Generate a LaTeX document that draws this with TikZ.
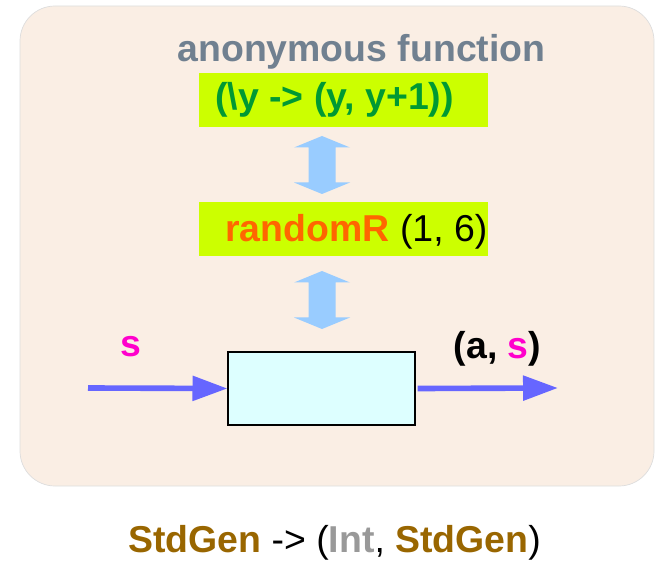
\documentclass[tikz,border=0pt]{standalone}
\usepackage{fontspec}
\setmainfont{Liberation Sans}
\usetikzlibrary{arrows.meta}

\definecolor{panelfill}{HTML}{FAEEE4}
\definecolor{panelline}{HTML}{DDDDDD}
\definecolor{titlegray}{HTML}{708090}
\definecolor{codeyellow}{HTML}{CCFF00}
\definecolor{lamgreen}{HTML}{009933}
\definecolor{randorange}{HTML}{FF6600}
\definecolor{fatblue}{HTML}{99CCFF}
\definecolor{genfill}{HTML}{DDFFFF}
\definecolor{flowblue}{HTML}{6666FF}
\definecolor{smagenta}{HTML}{FF00CC}
\definecolor{stdbrown}{HTML}{996600}
\definecolor{intgray}{HTML}{999999}

\tikzset{
  txt/.style = {inner sep = 0, anchor = base},
  codebox/.style = {fill = codeyellow, minimum width = 5.78cm, minimum height = 1.08cm, inner sep = 0},
  genbox/.style = {draw = black, line width = 0.6pt, fill = genfill, minimum width = 3.74cm, minimum height = 1.46cm, inner sep = 0},
  flow/.style = {draw = flowblue, line width = 3.2pt, -{Triangle[length = 0.7cm, width = 0.48cm]}},
  fatarrow/.style = {fill = fatblue}
}

\begin{document}
\begin{tikzpicture}[x = 0.02cm, y = -0.02cm, font = \fontsize{21.3}{25}\selectfont]
\useasboundingbox (0, 0) rectangle (658, 563);
\draw[draw = panelline, fill = panelfill, rounded corners = 0.7cm] (20, 6) rectangle (654, 486);

\node[txt, text = titlegray, font = \fontsize{21.3}{25}\selectfont\bfseries] (title) at (361.5, 62) {anonymous function};

\node[codebox] (lambdabox) at (343.5, 100) {};
\node[txt, anchor = base west, text = lamgreen, font = \fontsize{21.3}{25}\selectfont\bfseries] (lambda) at (215, 110) {(\textbackslash y -> (y, y+1))};

\node[codebox] (randbox) at (343.5, 229) {};
\node[txt, anchor = base west] (rand) at (225, 242) {\textcolor{randorange}{\bfseries randomR} (1, 6)};

\foreach \cy in {165, 300} {
  \begin{scope}[shift = {(322, \cy)}]
    \fill[fatarrow] (0, -29) -- (28, -17.5) -- (13.5, -17.5) -- (13.5, 17.5) -- (28, 17.5)
      -- (0, 29) -- (-28, 17.5) -- (-13.5, 17.5) -- (-13.5, -17.5) -- (-28, -17.5) -- cycle;
  \end{scope}
}

\node[genbox] (gen) at (321.5, 388.5) {};
\coordinate (sin) at (88, 388);
\coordinate (sout) at (558, 388);
\draw[flow] (sin) -- (gen.west);
\draw[flow] ([xshift = 0.04cm]gen.east) -- (sout);

\node[txt, text = smagenta, font = \fontsize{21.3}{25}\selectfont\bfseries] (slabel) at (131, 356) {s};
\node[txt, font = \fontsize{21.3}{25}\selectfont\bfseries] (pairlabel) at (497.5, 358) {(a, \textcolor{smagenta}{s})};

\node[txt] (signature) at (334.5, 552) {\textcolor{stdbrown}{\bfseries StdGen} -> (\textcolor{intgray}{\bfseries Int}, \textcolor{stdbrown}{\bfseries StdGen})};
\end{tikzpicture}
\end{document}
